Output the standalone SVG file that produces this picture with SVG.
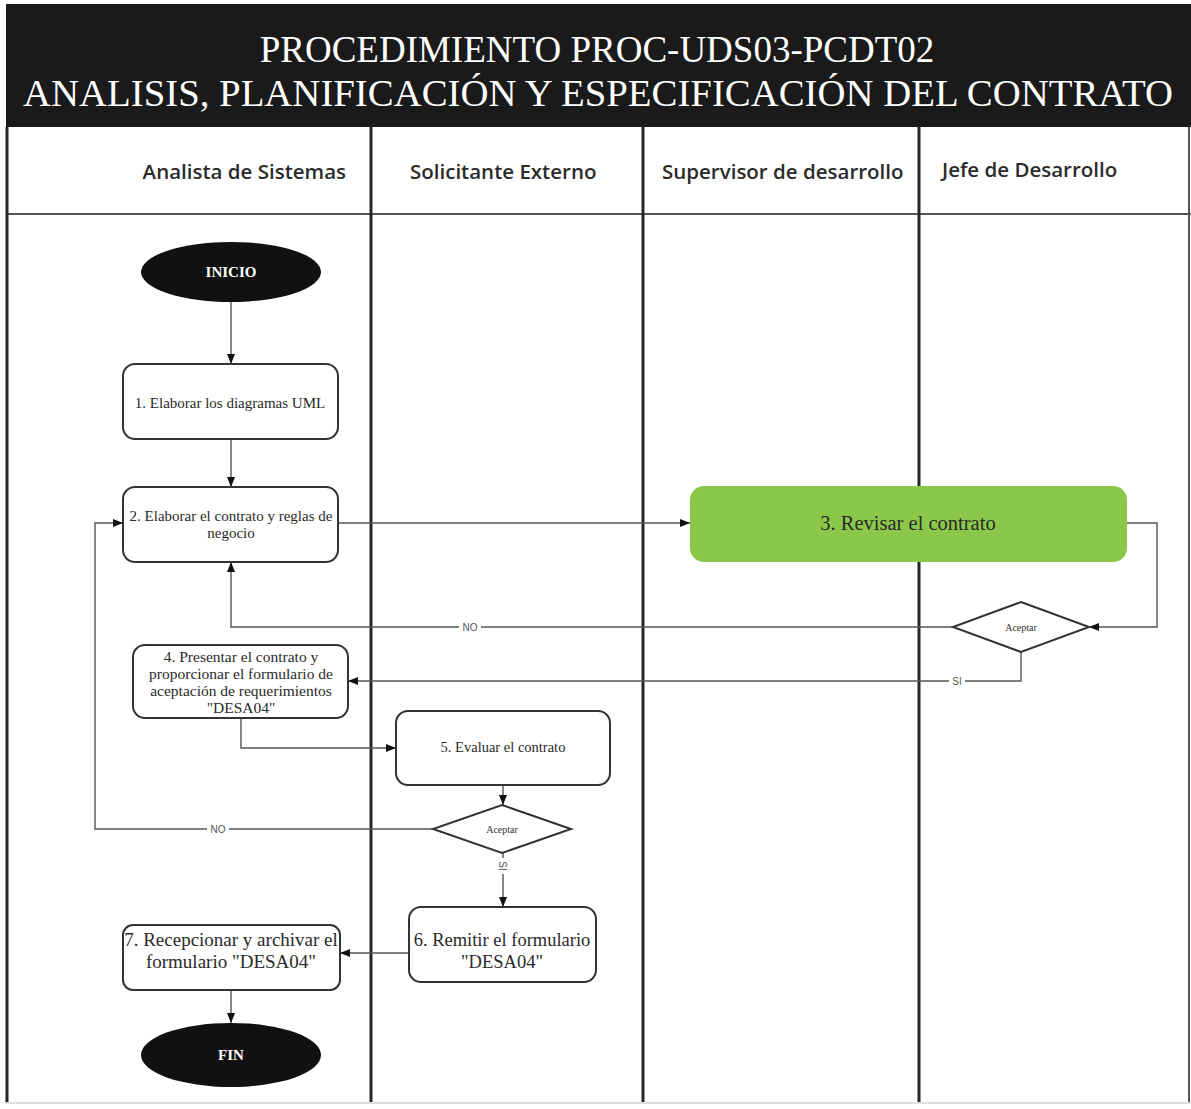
<svg xmlns="http://www.w3.org/2000/svg" width="1191" height="1109" viewBox="0 0 1191 1109">
  <defs>
    <marker id="arrow" viewBox="0 0 10 10" refX="10" refY="5" markerWidth="10" markerHeight="10" markerUnits="userSpaceOnUse" orient="auto">
      <path d="M0,1 L10,5 L0,9 Z" fill="#111"/>
    </marker>
    <style>
      .title { font-family: "Liberation Serif", "Times New Roman", serif; font-size: 37px; fill: #ffffff; text-anchor: middle; }
      .lane { font-family: "Open Sans", "Noto Sans", sans-serif; font-size: 20.5px; font-weight: 600; fill: #2b2b2b; }
      .divider { stroke: #262626; stroke-width: 3; fill: none; }
      .hdiv { stroke: #555; stroke-width: 2; fill: none; }
      .box { fill: #ffffff; stroke: #333; stroke-width: 2; }
      .txt { font-family: "Liberation Serif", "Times New Roman", serif; fill: #2a2a2a; text-anchor: middle; }
      .term { fill: #111; }
      .termtxt { font-family: "Liberation Serif", "Times New Roman", serif; font-size: 15px; font-weight: bold; fill: #fff; text-anchor: middle; }
      .dia { fill: #ffffff; stroke: #333; stroke-width: 2; }
      .diatxt { font-family: "Liberation Serif", "Times New Roman", serif; font-size: 10px; fill: #333; text-anchor: middle; }
      .edge { stroke: #555; stroke-width: 1.4; fill: none; }
      .lbl { font-family: "Liberation Sans", Arial, sans-serif; font-size: 10px; fill: #555; text-anchor: middle; }
      .lblbg { fill: #ffffff; }
    </style>
  </defs>

  <rect x="0" y="0" width="1191" height="1109" fill="#ffffff"/>

  <!-- title band -->
  <g id="title">
    <rect x="6" y="4" width="1185" height="123" fill="#1a1a1a"/>
    <text class="title" x="597" y="62">PROCEDIMIENTO PROC-UDS03-PCDT02</text>
    <text class="title" x="598" y="106" textLength="1150" lengthAdjust="spacingAndGlyphs">ANALISIS, PLANIFICACIÓN Y ESPECIFICACIÓN DEL CONTRATO</text>
  </g>

  <!-- swimlane frame -->
  <g id="lanes">
    <line class="hdiv" x1="6" y1="214" x2="1191" y2="214"/>
    <line class="divider" x1="7" y1="127" x2="7" y2="1103"/>
    <line class="divider" x1="371" y1="127" x2="371" y2="1103"/>
    <line class="divider" x1="643" y1="127" x2="643" y2="1103"/>
    <line class="divider" x1="919" y1="127" x2="919" y2="1103"/>
    <line class="hdiv" x1="1189" y1="127" x2="1189" y2="1103"/>
    <line x1="6" y1="1103" x2="1191" y2="1103" stroke="#ddd" stroke-width="2"/>
    <text class="lane" x="346" y="179" text-anchor="end">Analista de Sistemas</text>
    <text class="lane" x="410" y="179">Solicitante Externo</text>
    <text class="lane" x="662" y="179">Supervisor de desarrollo</text>
    <text class="lane" x="942" y="177">Jefe de Desarrollo</text>
  </g>

  <!-- connectors -->
  <g id="connectors">
    <line class="edge" x1="231" y1="302" x2="231" y2="364" marker-end="url(#arrow)"/>
    <line class="edge" x1="231" y1="439" x2="231" y2="487" marker-end="url(#arrow)"/>
    <line class="edge" x1="338" y1="523" x2="690" y2="523" marker-end="url(#arrow)"/>
    <polyline class="edge" points="1127,523 1157,523 1157,627 1089,627" marker-end="url(#arrow)"/>
    <polyline class="edge" points="953,627 231,627 231,562" marker-end="url(#arrow)"/>
    <polyline class="edge" points="1021,652 1021,681 348,681" marker-end="url(#arrow)"/>
    <polyline class="edge" points="241,718 241,748 396,748" marker-end="url(#arrow)"/>
    <line class="edge" x1="503" y1="785" x2="503" y2="805" marker-end="url(#arrow)"/>
    <polyline class="edge" points="433,829 95,829 95,523 123,523" marker-end="url(#arrow)"/>
    <line class="edge" x1="503" y1="853" x2="503" y2="907" marker-end="url(#arrow)"/>
    <line class="edge" x1="409" y1="953" x2="340" y2="953" marker-end="url(#arrow)"/>
    <line class="edge" x1="231" y1="990" x2="231" y2="1023" marker-end="url(#arrow)"/>

    <rect class="lblbg" x="459" y="621" width="22" height="12"/>
    <text class="lbl" x="470" y="631">NO</text>
    <rect class="lblbg" x="949" y="675" width="16" height="12"/>
    <text class="lbl" x="957" y="685">SI</text>
    <rect class="lblbg" x="207" y="823" width="22" height="12"/>
    <text class="lbl" x="218" y="833">NO</text>
    <rect class="lblbg" x="497" y="858" width="12" height="16"/>
    <text class="lbl" transform="translate(499,866) rotate(90)">SI</text>
  </g>

  <!-- nodes -->
  <g id="inicio">
    <ellipse class="term" cx="231" cy="272" rx="90" ry="30"/>
    <text class="termtxt" x="231" y="277">INICIO</text>
  </g>

  <g id="paso1">
    <rect class="box" x="123" y="364" width="215" height="75" rx="12"/>
    <text class="txt" font-size="15" x="230" y="408">1. Elaborar los diagramas UML</text>
  </g>

  <g id="paso2">
    <rect class="box" x="123" y="487" width="215" height="75" rx="12"/>
    <text class="txt" font-size="15" x="231" y="521">2. Elaborar el contrato y reglas de</text>
    <text class="txt" font-size="15" x="231" y="538">negocio</text>
  </g>

  <g id="paso3">
    <rect x="690" y="486" width="437" height="76" rx="14" fill="#8bc84a"/>
    <text class="txt" font-size="20.5" x="908" y="530">3. Revisar el contrato</text>
  </g>

  <g id="decision1">
    <polygon class="dia" points="1021,602 1089,627 1021,652 953,627"/>
    <text class="diatxt" x="1021" y="631">Aceptar</text>
  </g>

  <g id="paso4">
    <rect class="box" x="133" y="645" width="215" height="73" rx="12"/>
    <text class="txt" font-size="15.5" x="241" y="662">4. Presentar el contrato y</text>
    <text class="txt" font-size="15.5" x="241" y="679">proporcionar el formulario de</text>
    <text class="txt" font-size="15.5" x="241" y="696">aceptación de requerimientos</text>
    <text class="txt" font-size="15.5" x="241" y="713">"DESA04"</text>
  </g>

  <g id="paso5">
    <rect class="box" x="396" y="711" width="214" height="74" rx="12"/>
    <text class="txt" font-size="14.5" x="503" y="752">5. Evaluar el contrato</text>
  </g>

  <g id="decision2">
    <polygon class="dia" points="502,805 571,829 502,853 433,829"/>
    <text class="diatxt" x="502" y="833">Aceptar</text>
  </g>

  <g id="paso6">
    <rect class="box" x="409" y="907" width="187" height="75" rx="12"/>
    <text class="txt" font-size="18.5" x="502" y="946">6. Remitir el formulario</text>
    <text class="txt" font-size="18.5" x="502" y="968">"DESA04"</text>
  </g>

  <g id="paso7">
    <rect class="box" x="123" y="925" width="217" height="65" rx="10"/>
    <text class="txt" font-size="19" x="231" y="946">7. Recepcionar y archivar el</text>
    <text class="txt" font-size="19" x="231" y="968">formulario "DESA04"</text>
  </g>

  <g id="fin">
    <ellipse class="term" cx="231" cy="1055" rx="90" ry="32"/>
    <text class="termtxt" x="231" y="1060">FIN</text>
  </g>
</svg>
